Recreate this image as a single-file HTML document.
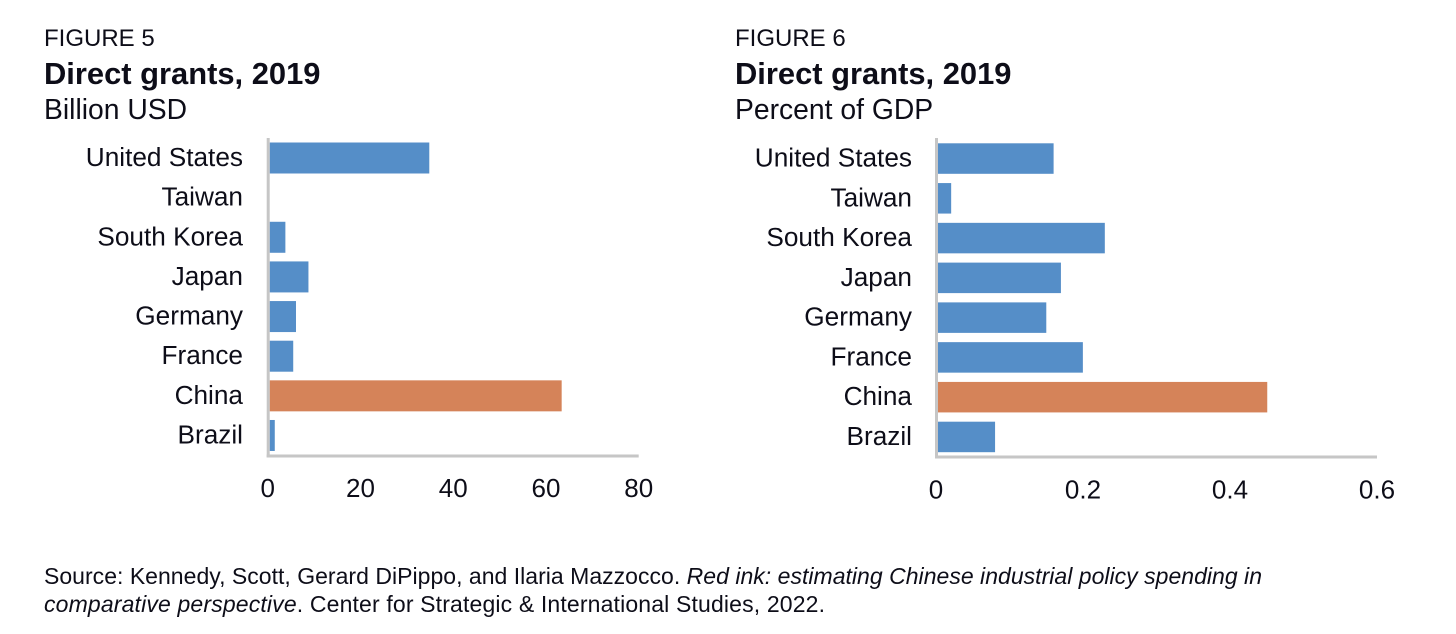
<!DOCTYPE html>
<html>
<head>
<meta charset="utf-8">
<style>
html,body{margin:0;padding:0;background:#fff;width:1456px;height:634px;overflow:hidden}
svg{display:block}
text{font-family:"Liberation Sans",sans-serif;fill:#0d0d18}
.fig{font-size:24px}
.ttl{font-size:30.9px;font-weight:bold}
.sub{font-size:28.3px}
.cat{font-size:26.2px;text-anchor:end}
.tick{font-size:26px;text-anchor:middle}
.src{font-size:23px}
.src tspan.i{font-style:italic}
</style>
</head>
<body>
<svg id="root" width="1456" height="634" viewBox="0 0 1456 634" xmlns="http://www.w3.org/2000/svg">
  <rect x="0" y="0" width="1456" height="634" fill="#ffffff"/>
  <text class="fig" x="44" y="46">FIGURE 5</text>
  <text class="ttl" x="44" y="84">Direct grants, 2019</text>
  <text class="sub" x="44" y="119">Billion USD</text>
  <text class="fig" x="735" y="46">FIGURE 6</text>
  <text class="ttl" x="735" y="84">Direct grants, 2019</text>
  <text class="sub" x="735" y="119">Percent of GDP</text>
  <g id="chart5"></g>
  <g id="chart6"></g>
  <text class="src" x="44" y="584" textLength="1218">Source: Kennedy, Scott, Gerard DiPippo, and Ilaria Mazzocco. <tspan class="i">Red ink: estimating Chinese industrial policy spending in</tspan></text>
  <text class="src" x="44" y="612" textLength="781"><tspan class="i">comparative perspective</tspan>. Center for Strategic &amp; International Studies, 2022.</text>
</svg>
<script>
const categories = ["United States","Taiwan","South Korea","Japan","Germany","France","China","Brazil"];
const billionUsd = [34.6,0,3.4,8.4,5.7,5.1,63.3,1.1];
const percentGdp = [0.158,0.018,0.228,0.168,0.148,0.198,0.45,0.078];
const billionTicks = [0,20,40,60,80];
const percentTicks = [0,0.2,0.4,0.6];
const highlightCategory = "China";

const NS = "http://www.w3.org/2000/svg";
function make(parent, tag, attrs, text){
  const el = document.createElementNS(NS, tag);
  for (const k in attrs) el.setAttribute(k, attrs[k]);
  if (text !== undefined) el.textContent = text;
  parent.appendChild(el);
  return el;
}
function drawChart(g, values, ticks, o){
  const tMin = ticks[0], tMax = ticks[ticks.length-1];
  const xScale = v => o.x0 + (v - tMin) / (tMax - tMin) * (o.x1 - o.x0);
  const tickScale = v => (o.x0 - 2) + (v - tMin) / (tMax - tMin) * (o.x1 - o.x0 + 2);
  const yBand = i => o.yTop + i * o.pitch;
  values.forEach((v, i) => {
    const c = categories[i];
    const label = make(g, "text", {class:"cat", x:o.labelX, y:yBand(i) + o.barH/2 + 8}, c);
    
    
    const hot = c === highlightCategory;
    const bar = make(g, "rect", {
      x: xScale(0), y: yBand(i), width: Math.max(0, xScale(v) - xScale(0)), height: o.barH,
      fill: hot ? "#d58359" : "#558ec8"
    });
    
    
  });
  const yAxis = make(g, "rect", {x:o.x0-3, y:138, width:3, height:o.axisY-138+3, fill:"#c6c6c6"});
  
  
  const xAxis = make(g, "rect", {x:o.x0-3, y:o.axisY, width:o.x1-o.x0+3, height:3, fill:"#c6c6c6"});
  
  
  ticks.forEach(t => {
    const tick = make(g, "text", {class:"tick", x:tickScale(t), y:o.tickY}, String(t));
    
    
  });
}
drawChart(document.getElementById("chart5"), billionUsd, billionTicks,
  {x0:269.7, x1:638.7, yTop:142.5, pitch:39.64, barH:31, labelX:243, axisY:454.5, tickY:497});
drawChart(document.getElementById("chart6"), percentGdp, percentTicks,
  {x0:938, x1:1377, yTop:143.3, pitch:39.77, barH:30.5, labelX:912, axisY:455.5, tickY:498.5});
</script>
</body>
</html>
